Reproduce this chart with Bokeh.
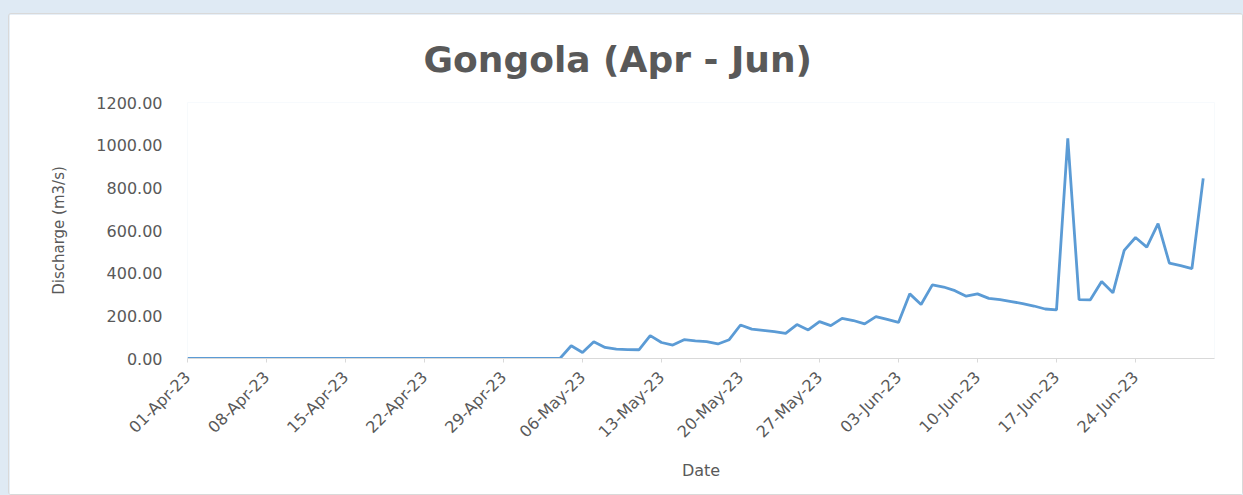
import math
import pandas as pd
from bokeh.plotting import figure
from bokeh.models import Range1d, FixedTicker, DatetimeTickFormatter, NumeralTickFormatter, ColumnDataSource
from bokeh.layouts import column
from bokeh.embed import file_html
from bokeh.resources import INLINE

# ---- data ----
start_date = "2023-04-01"
end_date = "2023-06-30"
discharge = [
    0, 0, 0, 0, 0, 0, 0, 0, 0, 0,          # 01-10 Apr
    0, 0, 0, 0, 0, 0, 0, 0, 0, 0,          # 11-20 Apr
    0, 0, 0, 0, 0, 0, 0, 0, 0, 0,          # 21-30 Apr
    0, 0, 0, 0,                            # 01-04 May
    60, 28, 79, 52, 44, 42, 41, 107, 75, 63,   # 05-14 May
    88, 83, 79, 68, 88, 157, 138, 132, 126, 118,  # 15-24 May
    159, 134, 173, 154, 188, 178, 162, 196, 183, 169,  # 25 May - 03 Jun
    303, 253, 345, 335, 318, 292, 303, 282, 276, 267,  # 04-13 Jun
    257, 246, 232, 228, 1032, 276, 275, 361, 308, 507,  # 14-23 Jun
    567, 522, 632, 447, 435, 421, 844,     # 24-30 Jun
]
y_ticks = [0, 200, 400, 600, 800, 1000, 1200]
x_tick_dates = ["2023-04-01", "2023-04-08", "2023-04-15", "2023-04-22", "2023-04-29",
                "2023-05-06", "2023-05-13", "2023-05-20", "2023-05-27", "2023-06-03",
                "2023-06-10", "2023-06-17", "2023-06-24"]

dates = pd.date_range(start_date, end_date, freq="D")
src = ColumnDataSource(data=dict(date=dates, q=discharge))

TXT = "#595959"
FONT = "DejaVu Sans"

p = figure(width=1235, height=482, x_axis_type="datetime",
           output_backend="svg", toolbar_location=None,
           x_range=Range1d(pd.Timestamp("2023-04-01"), pd.Timestamp("2023-07-01")),
           y_range=Range1d(0, 1200),
           min_border_left=178, min_border_right=30, min_border_top=88, min_border_bottom=138,
           title="Gongola (Apr - Jun)")
p.margin = (13, 0, 0, 8)
p.styles = {"border": "1px solid #d9d9d9", "border-radius": "3px"}

p.title.align = "left"
p.title.offset = 236
p.title.standoff = 45
p.title.text_font = FONT
p.title.text_font_size = "36px"
p.title.text_font_style = "bold"
p.title.text_color = TXT

p.line("date", "q", source=src, line_color="#5b9bd5", line_width=2.8)

p.xgrid.visible = False
p.ygrid.visible = False
p.outline_line_color = None
p.background_fill_color = "white"
p.border_fill_color = "white"

xa = p.xaxis[0]
xa.ticker = FixedTicker(ticks=[pd.Timestamp(d).value / 1e6 for d in x_tick_dates])
xa.formatter = DatetimeTickFormatter(days="%d-%b-%y", months="%d-%b-%y")
xa.major_label_orientation = math.pi / 4
xa.major_label_text_font = FONT
xa.major_label_text_font_size = "16px"
xa.major_label_text_color = TXT
xa.major_label_standoff = 12
xa.axis_line_color = "#d9d9d9"
xa.major_tick_line_color = "#d9d9d9"
xa.major_tick_in = 0
xa.major_tick_out = 4
xa.minor_tick_line_color = None
xa.axis_label = "Date"
xa.axis_label_text_font = FONT
xa.axis_label_text_font_size = "16px"
xa.axis_label_text_font_style = "normal"
xa.axis_label_text_color = TXT
xa.axis_label_standoff = 10

ya = p.yaxis[0]
ya.ticker = FixedTicker(ticks=y_ticks)
ya.formatter = NumeralTickFormatter(format="0.00")
ya.major_label_text_font = FONT
ya.major_label_text_font_size = "16px"
ya.major_label_text_color = TXT
ya.axis_line_color = None
ya.major_tick_line_color = None
ya.minor_tick_line_color = None
ya.major_label_standoff = 19
ya.axis_label = "Discharge (m3/s)"
ya.axis_label_text_font = FONT
ya.axis_label_text_font_size = "15px"
ya.axis_label_text_font_style = "normal"
ya.axis_label_text_color = TXT
ya.axis_label_standoff = 25

layout = column(p, styles={"background-color": "#dfeaf4"}, width=1243, height=495)

open("out.html", "w").write(file_html(layout, INLINE))
